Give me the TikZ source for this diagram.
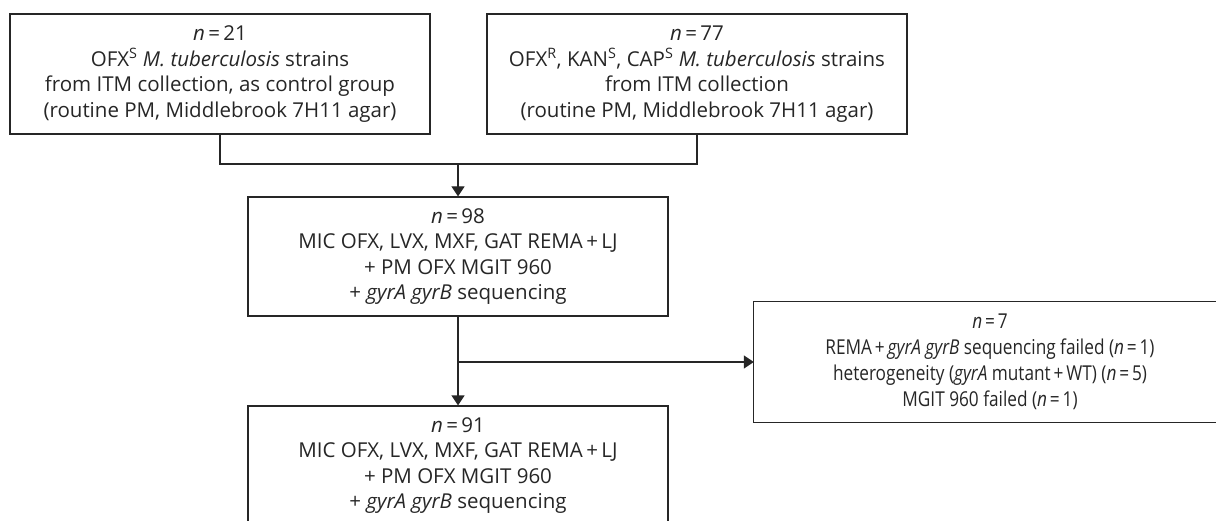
\documentclass[tikz,border=0pt]{standalone}
\usepackage{graphicx}
\usepackage{fontspec}
\setmainfont{Open Sans}
\usetikzlibrary{arrows.meta}
\definecolor{ink}{HTML}{262626}
\newcommand{\cnd}[1]{\scalebox{0.84}[1]{#1}}
\tikzset{
  box/.style={draw=ink, line width=1.2pt, inner sep=0pt, align=center,
    text=ink, font=\fontsize{20.5}{25.5}\selectfont,
    minimum width=420pt, minimum height=120pt},
  txt/.style={inner sep=0pt, align=center, text=ink,
    font=\fontsize{20.5}{26}\selectfont,
    minimum width=472pt, minimum height=120pt},
  conn/.style={draw=ink, line width=1.2pt},
  arr/.style={conn, -{Triangle[length=10pt,width=13pt]}}
}
\begin{document}
\begin{tikzpicture}[x=1pt,y=-1pt]
\useasboundingbox (0,0) rectangle (1216,521);
\clip (0,0) rectangle (1216,521);
\node[box] (b1) at (220,74) {\textit{n}\,=\,21\\
  OFX\textsuperscript{S} \textit{M. tuberculosis} strains\\
  from ITM collection, as control group\\
  (routine PM, Middlebrook 7H11 agar)};
\node[box] (b2) at (697,74) {\textit{n}\,=\,77\\
  OFX\textsuperscript{R}, KAN\textsuperscript{S}, CAP\textsuperscript{S} \textit{M. tuberculosis} strains\\
  from ITM collection\\
  (routine PM, Middlebrook 7H11 agar)};
\node[box, minimum height=119pt] (b3) at (458,256.5) {\textit{n}\,=\,98\\
  MIC OFX, LVX, MXF, GAT REMA\,+\,LJ\\
  + PM OFX MGIT 960\\
  + \textit{gyrA gyrB} sequencing};
\node[box, minimum height=119pt] (b4) at (458,465.5) {\textit{n}\,=\,91\\
  MIC OFX, LVX, MXF, GAT REMA\,+\,LJ\\
  + PM OFX MGIT 960\\
  + \textit{gyrA gyrB} sequencing};
\node[txt] (b5) at (990,362) {\cnd{\textit{n}\,=\,7}\\
  \cnd{REMA\,+\,\textit{gyrA gyrB} sequencing failed (\textit{n}\,=\,1)}\\
  \cnd{heterogeneity (\textit{gyrA} mutant\,+\,WT) (\textit{n}\,=\,5)}\\
  \cnd{MGIT 960 failed (\textit{n}\,=\,1)}};
\draw[conn] ([xshift=40pt]b5.north east) -- (b5.north west) -- (b5.south west) -- ([xshift=40pt]b5.south east);
\coordinate (j1) at (458,164);
\draw[conn] (b1.south) |- (j1) -| (b2.south);
\draw[arr] (j1) -- (b3.north);
\draw[arr] (b3.south) -- (b4.north);
\draw[arr] (b3.south |- b5.west) -- (b5.west);
\end{tikzpicture}
\end{document}
